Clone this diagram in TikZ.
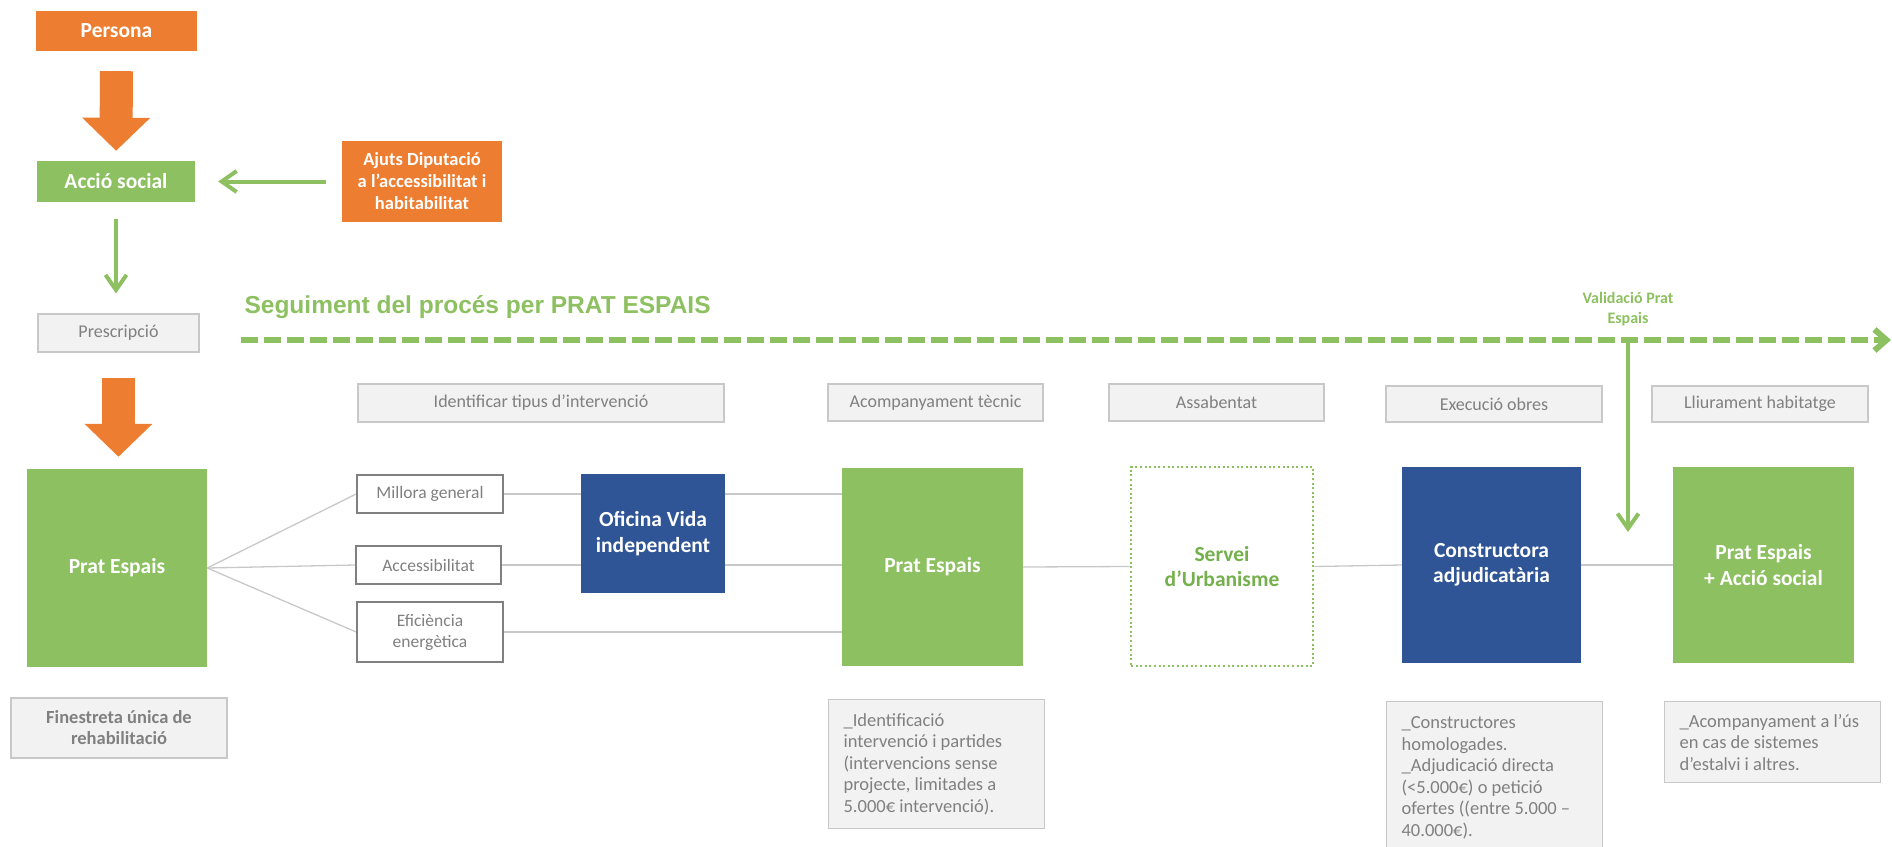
\documentclass[tikz,border=0pt]{standalone}
\usepackage{fontspec}
\setmainfont{Carlito}
\newfontfamily\titlefont{Liberation Sans}
\usetikzlibrary{arrows.meta,backgrounds}

\definecolor{orangeA}{HTML}{ED7D31}
\definecolor{greenA}{HTML}{8DC060}
\definecolor{greenB}{HTML}{74B04C}
\definecolor{blueA}{HTML}{2F5597}
\definecolor{greyfill}{HTML}{F2F2F2}
\definecolor{greyline}{HTML}{C8C8C8}
\definecolor{greytext}{HTML}{808080}

\begin{document}
\begin{tikzpicture}[x=1pt, y=-1pt,
    block/.style={rectangle, inner sep=0pt, align=center, text=white,
        font=\fontsize{21.5}{25.5}\selectfont\bfseries},
    orange box/.style={block, fill=orangeA},
    green box/.style={block, fill=greenA},
    blue box/.style={block, fill=blueA},
    grey box/.style={rectangle, inner sep=0pt, fill=greyfill, draw=greyline, line width=1.2pt,
        text=greytext, align=center, font=\fontsize{18}{21}\selectfont},
    option box/.style={rectangle, inner sep=0pt, fill=white, draw=greytext, line width=1.6pt,
        text=greytext, align=center, font=\fontsize{17.5}{21}\selectfont},
    note box/.style={grey box, anchor=north west, inner xsep=15pt, align=flush left,
        text width=186pt, minimum width=216pt, font=\fontsize{18.5}{21.5}\selectfont},
    link/.style={draw=greyline, line width=1.3pt},
    big arrow/.style={draw=orangeA, line width=33pt, -{Triangle[width=66pt,length=33pt]}},
    green arrow/.style={draw=greenA, line width=4pt, -{Straight Barb[length=15pt,width=21pt]}}]

    \useasboundingbox (0,0) rectangle (1892,846);

    % left column
    \node[orange box, minimum width=161pt, minimum height=40pt] (persona) at (116.5,31) {Persona};
    \node[green box, minimum width=158pt, minimum height=41pt] (accio) at (116,181.5) {Acció social};
    \node[orange box, minimum width=160pt, minimum height=81pt,
        font=\fontsize{18.5}{22}\selectfont\bfseries] (ajuts) at (422,181.5)
        {Ajuts Diputació\\a l’accessibilitat i\\habitabilitat};
    \node[grey box, minimum width=161pt, minimum height=38pt] (presc) at (118.5,333) {Prescripció};
    \node[green box, minimum width=180pt, minimum height=198pt] (prat1) at (117,568) {Prat Espais};
    \node[grey box, minimum width=216pt, minimum height=60pt,
        font=\fontsize{18.5}{21}\selectfont\bfseries] (finest) at (119,728)
        {Finestreta única de\\rehabilitació};

    \draw[big arrow, shorten <=20pt, shorten >=10pt] (persona) -- (accio);
    \draw[green arrow, shorten <=16pt, shorten >=23pt] (ajuts.west) -- (accio.east);
    \draw[green arrow, shorten <=17pt, shorten >=20pt] (accio.south) -- (accio.south |- presc.north);
    \draw[big arrow, shorten <=25pt, shorten >=12pt] (presc.south) -- (presc.south |- prat1.north);

    % seguiment
    \node[anchor=base west, text=greenA, font=\titlefont\fontsize{24.5}{29}\selectfont\bfseries]
        (title) at (241,313) {Seguiment del procés per PRAT ESPAIS};
    \coordinate (track start) at (241,340);
    \coordinate (track end) at (1891,340);
    \draw[draw=greenA, line width=6pt, dash pattern=on 17pt off 6pt,
        -{Straight Barb[length=12pt,width=21pt]}] (track start) -- (track end);
    \node[text=greenA, align=center, font=\fontsize{16}{20}\selectfont\bfseries]
        (valid) at (1628,309) {Validació Prat\\Espais};
    \coordinate (valid top) at (1628,340);
    \coordinate (valid end) at (1628,532);
    \draw[green arrow] (valid top) -- (valid end);

    % fases
    \node[grey box, minimum width=366pt, minimum height=38pt] (ident) at (541,403) {Identificar tipus d’intervenció};
    \node[grey box, minimum width=215pt, minimum height=37pt] (acomp) at (935.5,402.5) {Acompanyament tècnic};
    \node[grey box, minimum width=215pt, minimum height=37pt] (assab) at (1216.5,402.5) {Assabentat};
    \node[grey box, minimum width=216pt, minimum height=36pt] (exec) at (1494,404) {Execució obres};
    \node[grey box, minimum width=216pt, minimum height=36pt] (lliur) at (1760,404) {Lliurament habitatge};

    % tipus
    \node[option box, minimum width=146pt, minimum height=38pt] (millora) at (430,494) {Millora general};
    \node[option box, minimum width=145pt, minimum height=38pt] (access) at (428.5,565) {Accessibilitat};
    \node[option box, minimum width=146pt, minimum height=60pt] (efic) at (430,632) {Eficiència\\energètica};
    \node[blue box, minimum width=144pt, minimum height=119pt] (oficina) at (653,533.5) {Oficina Vida\\independent};

    % agents
    \node[green box, minimum width=181pt, minimum height=198pt] (prat2) at (932.5,567) {Prat Espais};
    \node[rectangle, inner sep=0pt, draw=greenA, line width=2.6pt, dash pattern=on 2pt off 2.6pt,
        fill=white, text=greenB, align=center, font=\fontsize{21.5}{25.5}\selectfont\bfseries,
        minimum width=182pt, minimum height=199pt] (servei) at (1222,566.5) {Servei\\d’Urbanisme};
    \node[blue box, minimum width=179pt, minimum height=196pt] (constr) at (1491.5,565) {Constructora\\adjudicatària};
    \node[green box, minimum width=181pt, minimum height=196pt] (prat3) at (1763.5,565) {Prat Espais\\+ Acció social};

    % notes
    \node[note box, minimum height=129pt] (note1) at (828,699)
        {\_Identificació\\intervenció i partides\\(intervencions sense\\projecte, limitades a\\5.000€ intervenció).};
    \node[note box, minimum height=152pt] (note2) at (1386,701)
        {\_Constructores\\homologades.\\\_Adjudicació directa\\(<5.000€) o petició\\ofertes ((entre 5.000 –\\40.000€).};
    \node[note box, minimum height=81pt] (note3) at (1664,701)
        {\_Acompanyament a l’ús\\en cas de sistemes\\d’estalvi i altres.};

    % connexions
    \begin{scope}[on background layer]
    \path[link]
        (prat1.east) edge (millora.west)
        (prat1.east) edge (access.west)
        (prat1.east) edge (efic.west)
        (millora.east) edge (millora.east -| prat2.west)
        (access.east) edge (access.east -| prat2.west)
        (efic.east) edge (efic.east -| prat2.west)
        (prat2.east) edge (servei.west)
        (servei.east) edge (constr.west)
        (constr.east) edge (prat3.west);
    \end{scope}
\end{tikzpicture}
\end{document}
